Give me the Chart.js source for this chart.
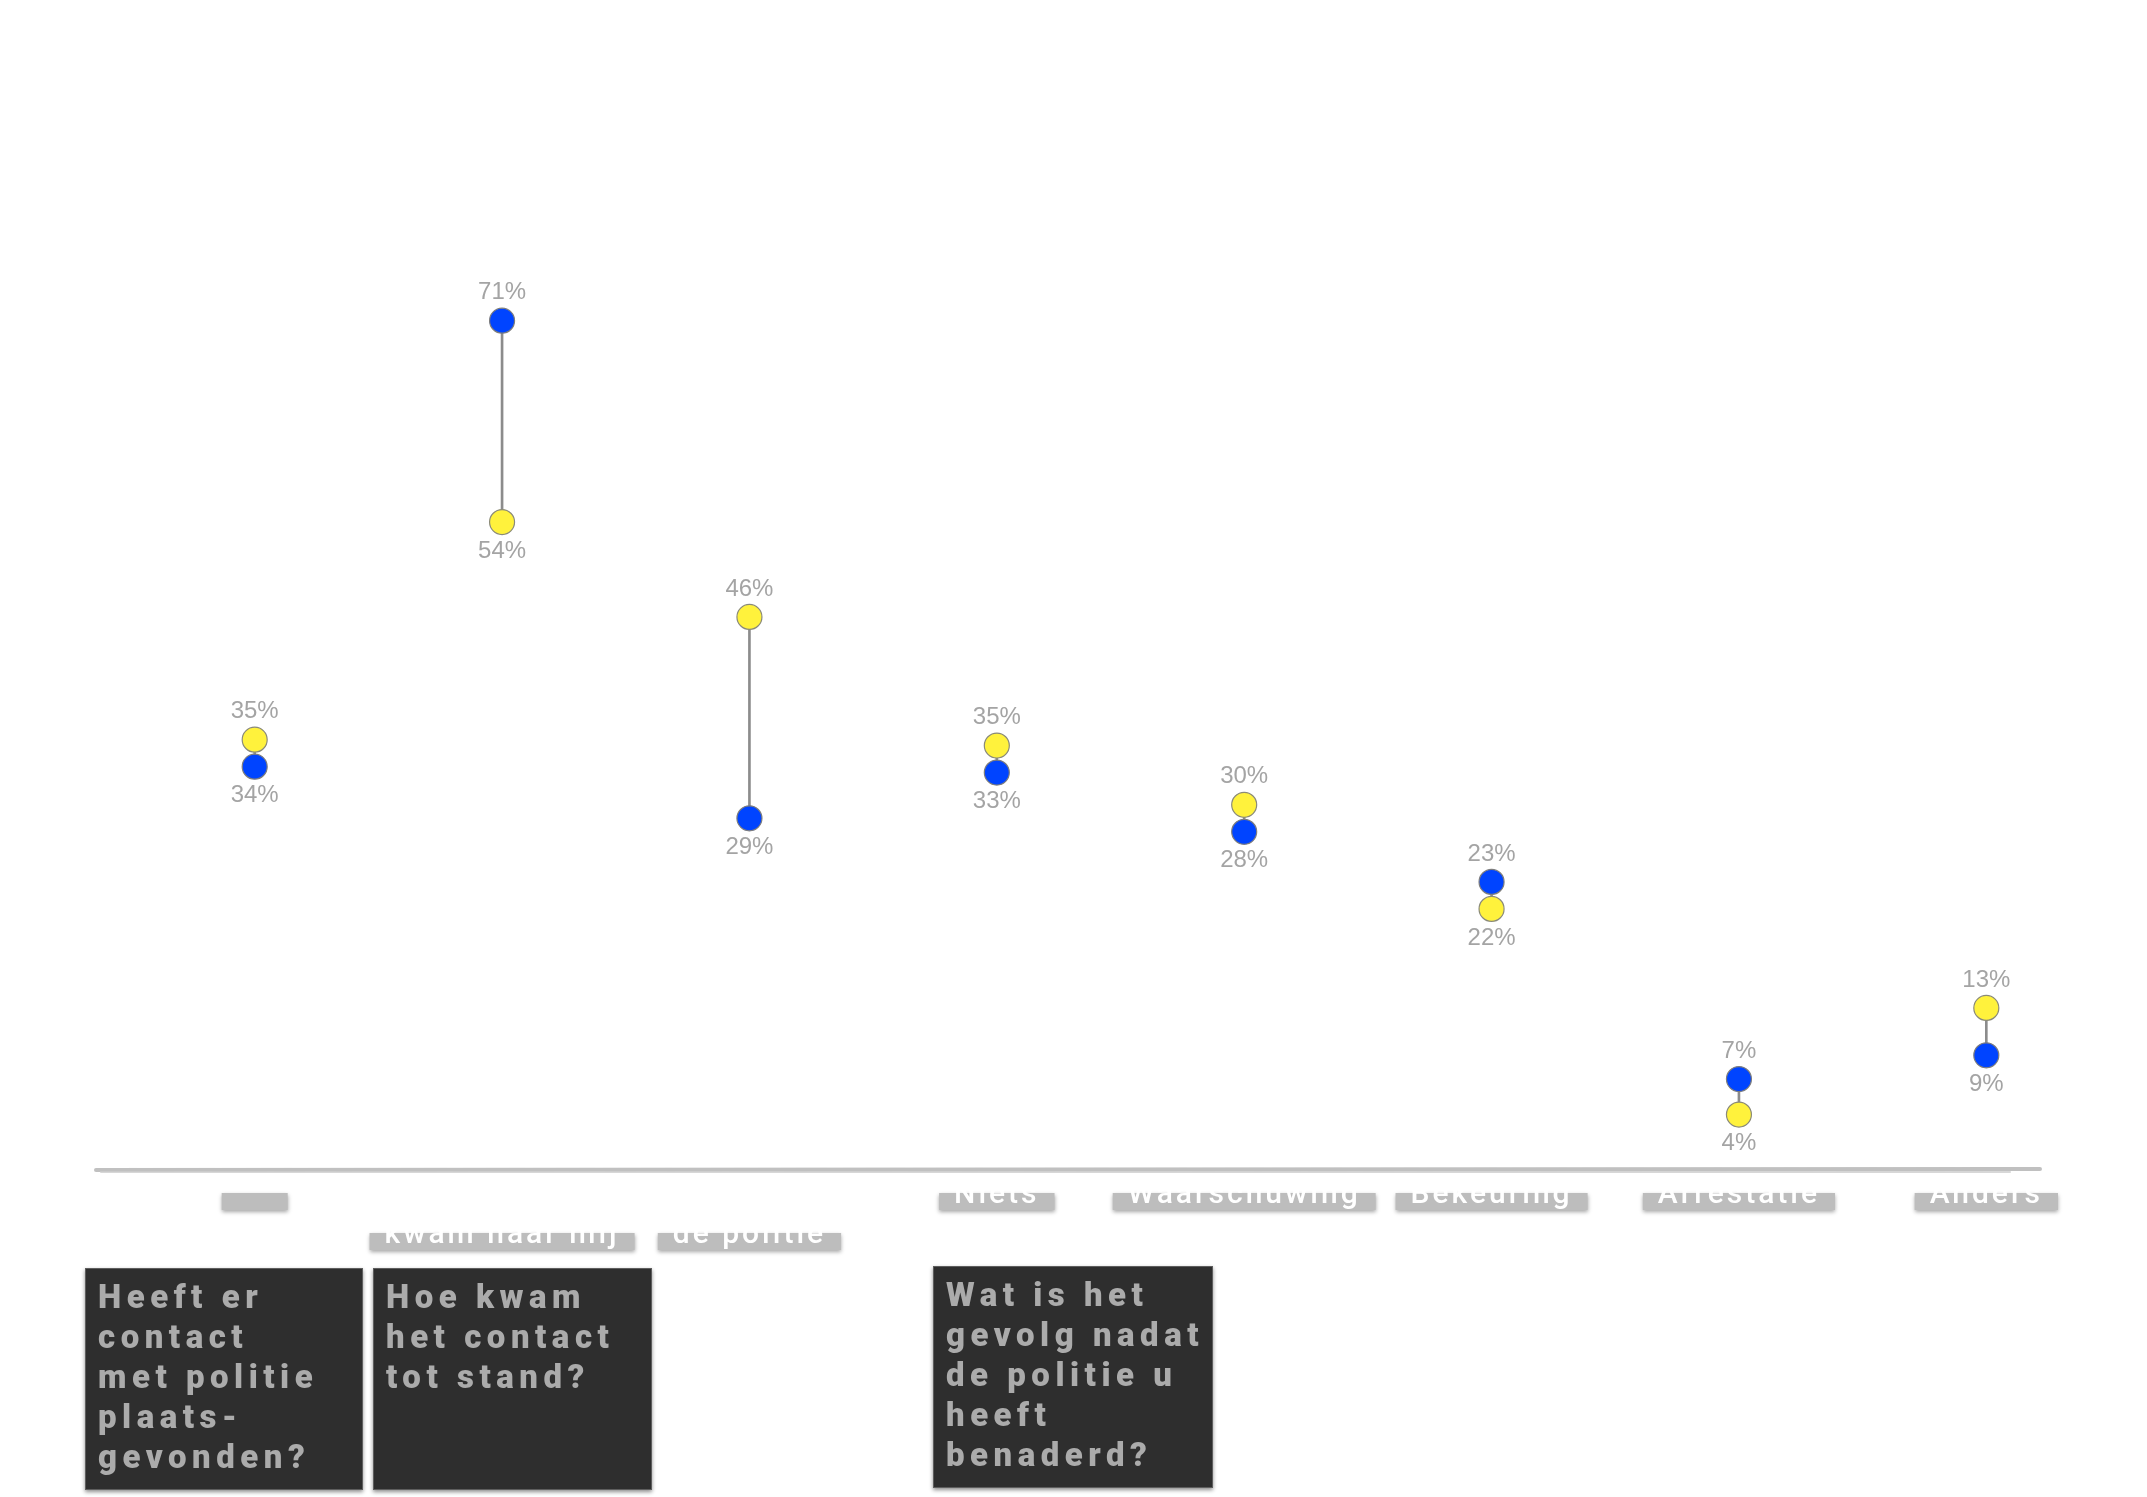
<!DOCTYPE html>
<html>
<head>
<meta charset="utf-8">
<script src="https://cdn.jsdelivr.net/npm/chart.js@4.4.1/dist/chart.umd.min.js"></script>
<style>
html,body{margin:0;padding:0;background:#ffffff;}
#wrap{position:relative;width:2147px;height:1497px;overflow:hidden;background:#ffffff;}
#c{position:absolute;left:0;top:0;}
.q{position:absolute;background:#2e2e2e;color:#ababab;font-family:Roboto,'DejaVu Sans',sans-serif;font-weight:900;font-size:33px;line-height:40px;letter-spacing:5.5px;padding:8px 0 0 12px;box-sizing:border-box;white-space:nowrap;box-shadow:0 2px 4px rgba(0,0,0,0.45);border:1px solid #5e5e5e;overflow:hidden;}
</style>
</head>
<body>
<div id="wrap">
<canvas id="c" width="2147" height="1497"></canvas>
</div>
<script>
// ---- data ----
const categories = [
  [""],
  ["De politie", "kwam naar mij"],
  ["Ik ging naar", "de politie"],
  ["Niets"],
  ["Waarschuwing"],
  ["Bekeuring"],
  ["Arrestatie"],
  ["Anders"]
];
const blueValues   = [34, 71, 29, 33, 28, 23, 7, 9];
const yellowValues = [35, 54, 46, 35, 30, 22, 4, 13];
const questions = [
  ["Heeft er", "contact", "met politie", "plaats-", "gevonden?"],
  ["Hoe kwam", "het contact", "tot stand?"],
  ["Wat is het", "gevolg nadat", "de politie u", "heeft", "benaderd?"]
];

// ---- question boxes (layout) ----
const qLayout = [
  {left:85, top:1268, width:278, height:222},
  {left:373, top:1268, width:279, height:222},
  {left:933, top:1266, width:280, height:222}
];
const wrap = document.getElementById('wrap');
questions.forEach((lines, i) => {
  const d = document.createElement('div');
  d.className = 'q';
  const L = qLayout[i];
  d.style.left = L.left + 'px'; d.style.top = L.top + 'px';
  d.style.width = L.width + 'px'; d.style.height = L.height + 'px';
  lines.forEach((t, k) => {
    if (k) d.appendChild(document.createElement('br'));
    d.appendChild(document.createTextNode(t));
  });
  wrap.appendChild(d);
});

// ---- connectors (floating bars) ----
const connectorData = blueValues.map((b, i) => [Math.min(b, yellowValues[i]), Math.max(b, yellowValues[i])]);

const RADIUS = 12.5;
const extras = {
  id: 'extras',
  afterDatasetsUpdate(chart) {
    const a = chart.getDatasetMeta(1).data, b = chart.getDatasetMeta(2).data;
    const minGap = 2 * RADIUS + 2;
    for (let i = 0; i < a.length; i++) {
      const p = a[i], q = b[i];
      const d = Math.abs(p.y - q.y);
      if (d < minGap) {
        const mid = (p.y + q.y) / 2;
        if (p.y < q.y) { p.y = mid - minGap / 2; q.y = mid + minGap / 2; }
        else { q.y = mid - minGap / 2; p.y = mid + minGap / 2; }
      }
    }
  },
  beforeDatasetsDraw(chart) {
    const ctx = chart.ctx, ca = chart.chartArea;
    ctx.save();
    const y0 = ca.bottom + 8;
    ctx.lineCap = 'round';
    ctx.strokeStyle = 'rgba(185,185,185,0.9)';
    ctx.lineWidth = 4;
    ctx.beginPath(); ctx.moveTo(ca.left - 35, y0); ctx.lineTo(ca.right - 70, y0 - 1); ctx.stroke();
    ctx.strokeStyle = 'rgba(205,205,205,0.8)';
    ctx.lineWidth = 2;
    ctx.beginPath(); ctx.moveTo(ca.left - 30, y0 + 2); ctx.lineTo(ca.right - 100, y0 + 2); ctx.stroke();
    ctx.restore();
  },
  afterDatasetsDraw(chart) {
    const ctx = chart.ctx, ca = chart.chartArea, xs = chart.scales.x;
    const a = chart.getDatasetMeta(1).data, b = chart.getDatasetMeta(2).data;
    ctx.save();
    ctx.font = '24px "Liberation Sans", Arial, sans-serif';
    ctx.fillStyle = '#a4a4a4';
    ctx.textAlign = 'center';
    ctx.textBaseline = 'middle';
    for (let i = 0; i < a.length; i++) {
      const bv = blueValues[i], yv = yellowValues[i];
      let top, bot, tv, bvv;
      if (a[i].y < b[i].y) { top = a[i]; bot = b[i]; tv = bv; bvv = yv; }
      else { top = b[i]; bot = a[i]; tv = yv; bvv = bv; }
      ctx.fillText(tv + '%', top.x, top.y - 28);
      ctx.fillText(bvv + '%', bot.x, bot.y + 29);
    }
    ctx.font = '500 30px Roboto, "Liberation Sans", sans-serif';
    ctx.letterSpacing = '3px';
    ctx.textBaseline = 'alphabetic';
    categories.forEach((lines, i) => {
      const x = xs.getPixelForValue(i);
      const last = lines[lines.length - 1];
      const base = ca.bottom + 41 + (lines.length - 1) * 40;
      const w = Math.max(66, ctx.measureText(last).width + 30);
      ctx.save();
      ctx.shadowColor = 'rgba(0,0,0,0.35)';
      ctx.shadowBlur = 4;
      ctx.shadowOffsetY = 2;
      ctx.fillStyle = '#bdbdbd';
      ctx.fillRect(x - w / 2, base - 10, w, 17);
      ctx.restore();
      ctx.fillStyle = '#ffffff';
      lines.forEach((t, k) => {
        ctx.fillText(t, x, base - (lines.length - 1 - k) * 40);
      });
    });
    ctx.restore();
  }
};

new Chart(document.getElementById('c'), {
  type: 'bar',
  data: {
    labels: categories,
    datasets: [
      {
        type: 'bar',
        data: connectorData,
        backgroundColor: '#8c8c8c',
        barThickness: 2,
        borderSkipped: false,
        order: 3
      },
      {
        type: 'line',
        data: blueValues,
        showLine: false,
        pointRadius: RADIUS,
        pointBackgroundColor: '#0044ff',
        pointBorderColor: '#7d7d7d',
        pointBorderWidth: 1.2,
        order: 1
      },
      {
        type: 'line',
        data: yellowValues,
        showLine: false,
        pointRadius: RADIUS,
        pointBackgroundColor: '#fff23c',
        pointBorderColor: '#8a8a7a',
        pointBorderWidth: 1.2,
        order: 2
      }
    ]
  },
  options: {
    responsive: false,
    animation: false,
    devicePixelRatio: 1,
    layout: { padding: { left: 131, right: 37, top: 214, bottom: 335 } },
    plugins: { legend: { display: false }, tooltip: { enabled: false } },
    scales: {
      x: { display: false },
      y: { display: false, min: 0, max: 80 }
    }
  },
  plugins: [extras]
});
</script>
</body>
</html>
